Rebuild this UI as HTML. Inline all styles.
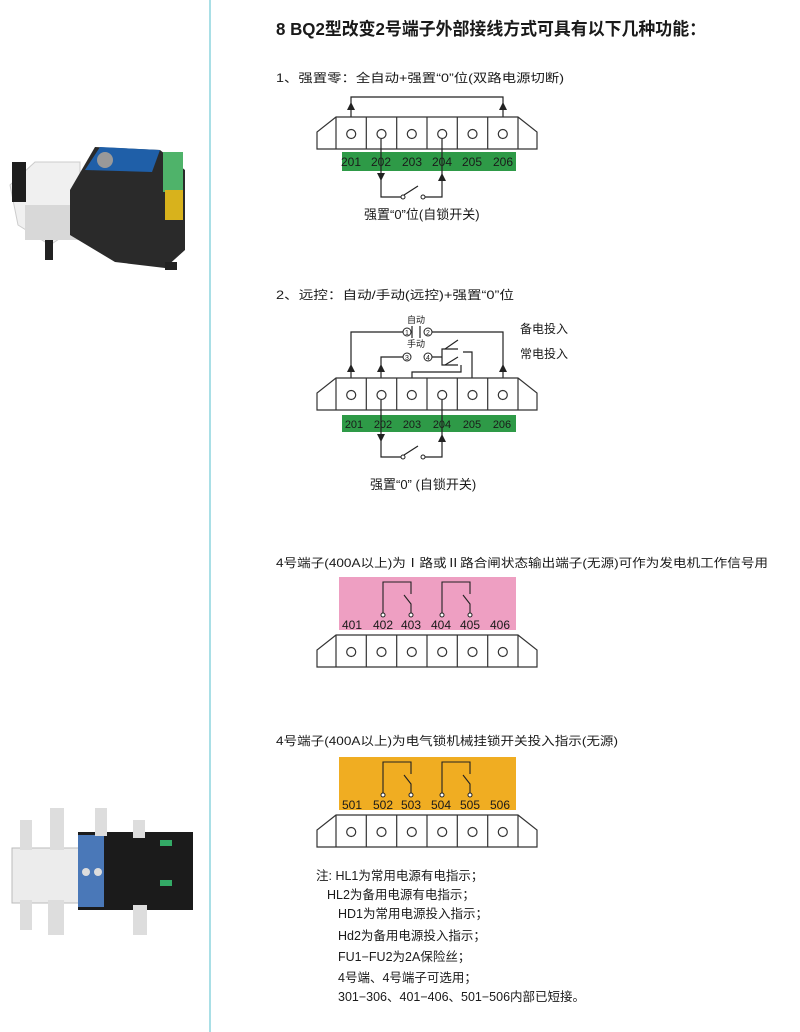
<!DOCTYPE html>
<html><head><meta charset="utf-8"><style>
body{margin:0;background:#fff}
svg{display:block}
text{font-family:"Liberation Sans","Noto Sans CJK SC",sans-serif;fill:#1a1a1a}
</style></head><body>
<svg width="800" height="1032" viewBox="0 0 800 1032" xmlns="http://www.w3.org/2000/svg">
<defs>
<g id="blk">
<path d="M19,0 L201,0 L220,15 L220,32 L0,32 L0,15 Z" fill="#fff" stroke="#333" stroke-width="1.2"/>
<path d="M19,0V32M49.3,0V32M79.7,0V32M110,0V32M140.3,0V32M170.7,0V32M201,0V32" stroke="#333" stroke-width="1.2"/>
<g fill="#fff" stroke="#333" stroke-width="1.2">
<circle cx="34.2" cy="17" r="4.5"/><circle cx="64.5" cy="17" r="4.5"/><circle cx="94.8" cy="17" r="4.5"/><circle cx="125.2" cy="17" r="4.5"/><circle cx="155.5" cy="17" r="4.5"/><circle cx="185.8" cy="17" r="4.5"/>
</g>
</g>
</defs>
<rect x="209" y="0" width="2" height="1032" fill="#a9dfe6"/>
<!-- product image 1 -->
<g>
<polygon points="10,185 35,162 80,162 80,225 50,245 18,225" fill="#f0f0f0" stroke="#ccc"/>
<rect x="12" y="162" width="14" height="40" fill="#1e1e1e"/>
<rect x="25" y="205" width="55" height="35" fill="#d8d8d8"/>
<polygon points="70,190 95,147 160,150 185,170 185,250 165,268 115,262 70,235" fill="#2a2a2a"/>
<polygon points="85,170 100,147 160,150 152,172" fill="#1f5fa8"/>
<circle cx="105" cy="160" r="8" fill="#999"/>
<rect x="163" y="152" width="20" height="40" fill="#4fb36a"/>
<rect x="165" y="190" width="18" height="30" fill="#d8b21c"/>
<rect x="45" y="240" width="8" height="20" fill="#222"/>
<rect x="165" y="262" width="12" height="8" fill="#222"/>
</g>
<!-- product image 2 -->
<g>
<rect x="12" y="848" width="68" height="55" fill="#ececec" stroke="#bbb"/>
<rect x="78" y="832" width="115" height="78" fill="#1b1b1b"/>
<rect x="78" y="835" width="26" height="72" fill="#4a78b8"/>
<circle cx="86" cy="872" r="4" fill="#ddd"/><circle cx="98" cy="872" r="4" fill="#ddd"/>
<rect x="20" y="820" width="12" height="30" fill="#ddd"/><rect x="50" y="808" width="14" height="42" fill="#ddd"/><rect x="95" y="808" width="12" height="28" fill="#ddd"/><rect x="133" y="820" width="12" height="18" fill="#ddd"/>
<rect x="20" y="900" width="12" height="30" fill="#ddd"/><rect x="48" y="900" width="16" height="35" fill="#ddd"/><rect x="133" y="905" width="14" height="30" fill="#ddd"/>
<rect x="160" y="840" width="12" height="6" fill="#3a6"/><rect x="160" y="880" width="12" height="6" fill="#3a6"/>
</g>

<text x="276" y="35" font-size="17.5" font-weight="bold" textLength="430" lengthAdjust="spacingAndGlyphs">8 BQ2型改变2号端子外部接线方式可具有以下几种功能：</text>

<!-- Diagram 1 -->
<text x="276" y="82" font-size="12" textLength="288" lengthAdjust="spacingAndGlyphs">1、强置零：全自动+强置“0”位(双路电源切断)</text>
<path d="M351,130V97H503V130" fill="none" stroke="#222" stroke-width="1.2"/>
<polygon points="351,102 347,110 355,110" fill="#222"/>
<polygon points="503,102 499,110 507,110" fill="#222"/>
<use href="#blk" x="317" y="117"/>
<rect x="342" y="152" width="174" height="19" fill="#2e9a47"/>
<g font-size="12" text-anchor="middle">
<text x="351" y="166" fill="#123">201</text><text x="381" y="166" fill="#123">202</text><text x="412" y="166" fill="#123">203</text><text x="442" y="166" fill="#123">204</text><text x="472" y="166" fill="#123">205</text><text x="503" y="166" fill="#123">206</text>
</g>
<path d="M381,139V197H402M424,197H442V139M404,195L418,186" fill="none" stroke="#222" stroke-width="1.2"/>
<circle cx="403" cy="197" r="2" fill="#fff" stroke="#222"/><circle cx="423" cy="197" r="2" fill="#fff" stroke="#222"/>
<polygon points="377,173 385,173 381,181" fill="#222"/>
<polygon points="442,173 438,181 446,181" fill="#222"/>
<text x="364" y="219" font-size="13">强置“0”位(自锁开关)</text>

<!-- Diagram 2 -->
<text x="276" y="299" font-size="12" textLength="238" lengthAdjust="spacingAndGlyphs">2、远控：自动/手动(远控)+强置“0”位</text>
<text x="416" y="323" font-size="9" text-anchor="middle">自动</text>
<text x="416" y="347" font-size="9" text-anchor="middle">手动</text>
<path d="M351,391V332H403M432,332H503V391" fill="none" stroke="#222" stroke-width="1.2"/>
<path d="M412,326V338M420,326V338M381,391V357H403M432,357H442V349H458M442,357V365H458M463,352H472V391M461,365V372H412V391" fill="none" stroke="#222" stroke-width="1.2"/>
<path d="M445,349L458,340M445,365L458,357" stroke="#222" stroke-width="1.1"/>
<circle cx="407" cy="332" r="4" fill="#fff" stroke="#222"/><text x="407" y="335" font-size="7" text-anchor="middle">1</text>
<circle cx="428" cy="332" r="4" fill="#fff" stroke="#222"/><text x="428" y="335" font-size="7" text-anchor="middle">2</text>
<circle cx="407" cy="357" r="4" fill="#fff" stroke="#222"/><text x="407" y="360" font-size="7" text-anchor="middle">3</text>
<circle cx="428" cy="357" r="4" fill="#fff" stroke="#222"/><text x="428" y="360" font-size="7" text-anchor="middle">4</text>
<polygon points="351,364 347,372 355,372" fill="#222"/>
<polygon points="381,364 377,372 385,372" fill="#222"/>
<polygon points="503,364 499,372 507,372" fill="#222"/>
<text x="520" y="333" font-size="12">备电投入</text>
<text x="520" y="358" font-size="12">常电投入</text>
<use href="#blk" x="317" y="378"/>
<rect x="342" y="415" width="174" height="17" fill="#2e9a47"/>
<g font-size="11" text-anchor="middle">
<text x="354" y="428" fill="#123">201</text><text x="383" y="428" fill="#123">202</text><text x="412" y="428" fill="#123">203</text><text x="442" y="428" fill="#123">204</text><text x="472" y="428" fill="#123">205</text><text x="502" y="428" fill="#123">206</text>
</g>
<path d="M381,400V457H402M424,457H442V400M404,455L418,446" fill="none" stroke="#222" stroke-width="1.2"/>
<circle cx="403" cy="457" r="2" fill="#fff" stroke="#222"/><circle cx="423" cy="457" r="2" fill="#fff" stroke="#222"/>
<polygon points="377,434 385,434 381,442" fill="#222"/>
<polygon points="442,434 438,442 446,442" fill="#222"/>
<text x="370" y="489" font-size="13">强置“0” (自锁开关)</text>

<!-- Diagram 3 -->
<text x="276" y="567" font-size="12" textLength="492" lengthAdjust="spacingAndGlyphs">4号端子(400A以上)为Ⅰ路或Ⅱ路合闸状态输出端子(无源)可作为发电机工作信号用</text>
<rect x="339" y="577" width="177" height="53" fill="#ee9fc2"/>
<path d="M383,613V582H411V594M404,595L411,604V613M442,613V582H470V594M463,595L470,604V613" fill="none" stroke="#222" stroke-width="1.1"/>
<g fill="#fff" stroke="#222"><circle cx="383" cy="615" r="2"/><circle cx="411" cy="615" r="2"/><circle cx="442" cy="615" r="2"/><circle cx="470" cy="615" r="2"/></g>
<g font-size="12" text-anchor="middle">
<text x="352" y="629">401</text><text x="383" y="629">402</text><text x="411" y="629">403</text><text x="441" y="629">404</text><text x="470" y="629">405</text><text x="500" y="629">406</text>
</g>
<use href="#blk" x="317" y="635"/>

<!-- Diagram 4 -->
<text x="276" y="745" font-size="12" textLength="342" lengthAdjust="spacingAndGlyphs">4号端子(400A以上)为电气锁机械挂锁开关投入指示(无源)</text>
<rect x="339" y="757" width="177" height="53" fill="#f0ad22"/>
<path d="M383,793V762H411V774M404,775L411,784V793M442,793V762H470V774M463,775L470,784V793" fill="none" stroke="#222" stroke-width="1.1"/>
<g fill="#fff" stroke="#222"><circle cx="383" cy="795" r="2"/><circle cx="411" cy="795" r="2"/><circle cx="442" cy="795" r="2"/><circle cx="470" cy="795" r="2"/></g>
<g font-size="12" text-anchor="middle">
<text x="352" y="809">501</text><text x="383" y="809">502</text><text x="411" y="809">503</text><text x="441" y="809">504</text><text x="470" y="809">505</text><text x="500" y="809">506</text>
</g>
<use href="#blk" x="317" y="815"/>

<!-- Notes -->
<g font-size="12.5">
<text x="316" y="880">注: HL1为常用电源有电指示；</text>
<text x="327" y="899">HL2为备用电源有电指示；</text>
<text x="338" y="918">HD1为常用电源投入指示；</text>
<text x="338" y="940">Hd2为备用电源投入指示；</text>
<text x="338" y="961">FU1−FU2为2A保险丝；</text>
<text x="338" y="982">4号端、4号端子可选用；</text>
<text x="338" y="1001">301−306、401−406、501−506内部已短接。</text>
</g>
</svg>
</body></html>
